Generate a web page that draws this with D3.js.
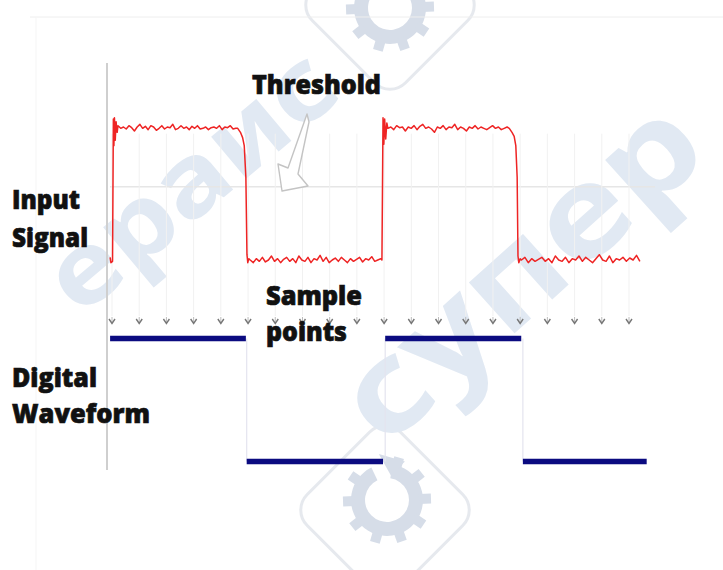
<!DOCTYPE html>
<html>
<head>
<meta charset="utf-8">
<script src="https://cdn.jsdelivr.net/npm/d3@7/dist/d3.min.js"></script>
<style>
  html, body { margin: 0; padding: 0; background: #fff; }
  svg { display: block; }
  .lbl { font-family: "Open Sans", "Noto Sans", "Liberation Sans", sans-serif; font-weight: 800; font-size: 26px; fill: #111; stroke: #111; stroke-width: 0.7px; }
</style>
</head>
<body>
<div id="chart"></div>
<script>
// sample clock ticks (index of each sample point)
const sampleIdx = [0, 1, 2, 3, 4, 5, 6, 7, 8, 9, 10, 11, 12, 13, 14, 15, 16, 17, 18, 19];
const thresholdV = 0.55;

// input signal, volts (1 = high level), time in sample periods
const rise1 = [[-0.07, 0.02], [-0.04, -0.02], [0.02, -0.01], [0.05, 1.06], [0.07, 0.86], [0.09, 1.07], [0.12, 0.9], [0.15, 1.04], [0.19, 0.96]];
const high1 = [1.01, 0.99, 1.0, 0.985, 1.01, 0.995, 0.97, 1.0, 1.02, 0.99, 1.005, 0.98, 1.01, 1.0, 0.975, 0.99, 1.01, 0.985, 1.0, 0.995, 1.02, 0.98, 0.99, 1.01, 0.99, 1.0, 0.98, 1.005, 0.99, 1.01, 0.985, 0.99, 1.0, 0.98, 0.995, 1.0, 0.99, 1.01, 0.98, 1.0, 0.995, 1.01, 0.985, 0.99];
const fall1 = [[4.62, 0.99], [4.72, 0.96], [4.8, 0.92], [4.86, 0.86], [4.92, 0.62], [4.96, 0.04], [4.99, -0.02], [5.03, 0.01]];
const low1 = [0.0, -0.02, 0.01, -0.01, 0.02, -0.015, 0.0, 0.03, -0.01, 0.01, -0.02, 0.005, 0.02, -0.01, 0.01, -0.02, 0.03, 0.0, -0.01, 0.02, -0.02, 0.01, 0.0, 0.035, -0.01, 0.02, -0.02, 0.0, 0.015, -0.01, 0.02, 0.0, -0.02, 0.01, -0.01, 0.005, 0.02, -0.015, 0.01, 0.0, 0.025, -0.01, 0.0, 0.01];
const rise2 = [[9.92, 0.0], [9.96, 1.07], [9.99, 0.87], [10.02, 1.06], [10.06, 0.91], [10.1, 1.03]];
const high2 = [0.99, 1.0, 0.98, 1.01, 0.995, 1.0, 0.97, 1.0, 0.99, 1.01, 0.98, 1.005, 1.02, 0.99, 1.0, 0.985, 0.96, 1.0, 0.99, 1.01, 0.98, 1.0, 0.995, 1.02, 0.98, 1.0, 0.99, 0.97, 1.0, 0.99, 1.01, 0.985, 1.0, 0.99, 0.98, 0.995, 1.01, 0.99, 1.0, 0.98, 0.99, 1.0];
const fall2 = [[14.6, 0.99], [14.7, 0.96], [14.78, 0.93], [14.84, 0.86], [14.89, 0.62], [14.92, 0.03], [14.95, -0.02], [15.0, 0.01]];
const low2 = [0.0, 0.02, -0.02, 0.01, -0.01, 0.005, 0.02, -0.01, 0.01, -0.02, 0.03, 0.0, -0.01, 0.02, -0.02, 0.01, 0.0, 0.03, -0.01, 0.02, 0.0, -0.02, 0.01, 0.04, 0.0, -0.01, 0.03, -0.02, 0.01, 0.0, 0.02, -0.01, 0.015, 0.0, 0.035, -0.01];
const noiseSpans = [[0.22, 4.55], [5.08, 9.88], [10.14, 14.52], [15.05, 19.4]];

// digital waveform produced by sampling
const digStart = [-0.07, 4.95, 10.04, 15.1];
const digEnd = [4.92, 9.96, 15.04, 19.65];
const digLevel = [1, 0, 1, 0];

const width = 723, height = 570;
const svg = d3.select('#chart').append('svg').attr('width', width).attr('height', height);

const x = d3.scaleLinear().domain([0, 19]).range([112, 629]);
const y = d3.scaleLinear().domain([0, 1]).range([260, 127]);
const yd = d3.scaleLinear().domain([0, 1]).range([461.5, 338.5]);

// 水印 (faint watermark behind everything)
const wmColor = '#e1e9f3';
const wm = svg.append('g').attr('class', 'watermark');
function gear(g, cx, cy) {
  const gg = g.append('g').attr('transform', 'translate(' + cx + ',' + cy + ') rotate(-20)');
  gg.append('path')
    .attr('d', d3.arc().innerRadius(22).outerRadius(36).startAngle(0.5).endAngle(2 * Math.PI - 0.1)())
    .attr('fill', '#d6dde8');
  d3.range(0, 2 * Math.PI, Math.PI / 5).forEach(function (a) {
    if (a < 0.4) return;
    gg.append('rect').attr('x', -5).attr('y', -44).attr('width', 10).attr('height', 12)
      .attr('fill', '#d6dde8').attr('transform', 'rotate(' + (a * 180 / Math.PI) + ')');
  });
  gg.append('path').attr('d', 'M8,-46 L30,-30 L12,-22 Z').attr('fill', '#d6dde8');
}
function diamond(g, cx, cy) {
  g.append('rect').attr('x', -66).attr('y', -66).attr('width', 132).attr('height', 132).attr('rx', 22)
    .attr('fill', 'none').attr('stroke', '#e6e9ee').attr('stroke-width', 3)
    .attr('transform', 'translate(' + cx + ',' + cy + ') rotate(45)');
}
diamond(wm, 390, 5);
gear(wm, 390, 8);
diamond(wm, 385, 510);
gear(wm, 387, 500);
wm.append('text').text('супер')
  .attr('transform', 'translate(385,450) rotate(-42)')
  .attr('textLength', 440).attr('lengthAdjust', 'spacingAndGlyphs')
  .style('font-family', '"Noto Sans", sans-serif').style('font-weight', 700)
  .style('font-size', '125px').style('fill', wmColor);
wm.append('text').text('ераис')
  .attr('transform', 'translate(80,318) rotate(-40)')
  .attr('textLength', 345).attr('lengthAdjust', 'spacingAndGlyphs')
  .style('font-family', '"Noto Sans", sans-serif').style('font-weight', 700)
  .style('font-size', '100px').style('fill', wmColor);

// faint frame of the original picture
svg.append('line').attr('x1', 30).attr('x2', width).attr('y1', 17).attr('y2', 17).attr('stroke', '#eeeeee');
svg.append('line').attr('x1', 36).attr('x2', 36).attr('y1', 17).attr('y2', height).attr('stroke', '#f5f5f5');

// vertical axis
svg.append('line').attr('x1', 107).attr('x2', 107).attr('y1', 63).attr('y2', 470)
  .attr('stroke', '#cfcfcf').attr('stroke-width', 2);

// threshold line
svg.append('line').attr('x1', 110).attr('x2', 655).attr('y1', y(thresholdV)).attr('y2', y(thresholdV))
  .attr('stroke', '#e6e6e6').attr('stroke-width', 1.5);

// sample guide lines
svg.selectAll('.sampleLine').data(sampleIdx).enter().append('line').attr('class', 'sampleLine')
  .attr('x1', d => x(d)).attr('x2', d => x(d)).attr('y1', y(0.95)).attr('y2', 316)
  .attr('stroke', '#f1f1f1').attr('stroke-width', 1);

// digital transitions (faint)
svg.selectAll('.digEdge').data(digStart.slice(1)).enter().append('line').attr('class', 'digEdge')
  .attr('x1', d => x(d)).attr('x2', d => x(d)).attr('y1', yd(1)).attr('y2', yd(0))
  .attr('stroke', '#e4e4ef').attr('stroke-width', 1.2);

// build input signal points
function spread(vals, span) {
  const s = d3.scaleLinear().domain([0, vals.length - 1]).range(span);
  return vals.map((v, i) => [s(i), v]);
}
const signal = [].concat(
  rise1, spread(high1, noiseSpans[0]), fall1,
  spread(low1, noiseSpans[1]), rise2,
  spread(high2, noiseSpans[2]), fall2,
  spread(low2, noiseSpans[3])
);
const line = d3.line().x(d => x(d[0])).y(d => y(d[1]));
svg.append('path').datum(signal).attr('d', line)
  .attr('fill', 'none').attr('stroke', '#ee2424').attr('stroke-width', 1.5).attr('stroke-linejoin', 'round');

// sample arrows
const arrows = svg.selectAll('.sampleArrow').data(sampleIdx).enter().append('g').attr('class', 'sampleArrow')
  .attr('transform', d => 'translate(' + x(d) + ',322)');
arrows.append('line').attr('x1', 0).attr('x2', 0).attr('y1', -5).attr('y2', 1).attr('stroke', '#bbb');
arrows.append('path').attr('d', 'M-3,-3 L0,1.5 L3,-3').attr('fill', 'none').attr('stroke', '#777').attr('stroke-width', 1.4);

// digital waveform bars
svg.selectAll('.digBar').data(digLevel).enter().append('line').attr('class', 'digBar')
  .attr('x1', (d, i) => x(digStart[i])).attr('x2', (d, i) => x(digEnd[i]))
  .attr('y1', d => yd(d)).attr('y2', d => yd(d))
  .attr('stroke', '#0b0b80').attr('stroke-width', 5.5);

// threshold arrow (hollow)
svg.append('path')
  .attr('d', 'M307,114 L309,122 L298,174 L308,186 L282,191 L278,164 L288,168 Z')
  .attr('fill', '#fff').attr('stroke', '#c4c4c4').attr('stroke-width', 1.4).attr('stroke-linejoin', 'round');

// labels
const labels = [
  { t: 'Threshold', x: 252, y: 94, w: 129 },
  { t: 'Input', x: 12, y: 209, w: 68 },
  { t: 'Signal', x: 12, y: 247, w: 76 },
  { t: 'Sample', x: 266, y: 305, w: 96 },
  { t: 'points', x: 266, y: 341, w: 81 },
  { t: 'Digital', x: 12, y: 387, w: 85 },
  { t: 'Waveform', x: 12, y: 423, w: 138 }
];
svg.selectAll('.lbl').data(labels).enter().append('text').attr('class', 'lbl')
  .attr('x', d => d.x).attr('y', d => d.y)
  .attr('textLength', d => d.w).attr('lengthAdjust', 'spacingAndGlyphs')
  .text(d => d.t);
</script>
</body>
</html>
